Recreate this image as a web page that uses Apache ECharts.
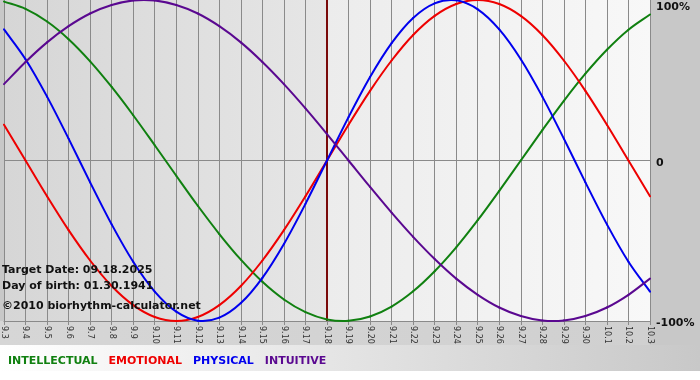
<!DOCTYPE html>
<html>
<head>
<meta charset="utf-8">
<script src="https://cdn.jsdelivr.net/npm/echarts@6/dist/echarts.min.js"></script>
<style>
html,body{margin:0;padding:0;background:#fff;}
#chart{width:700px;height:380px;}
</style>
</head>
<body>
<div id="chart"></div>
<script>
const categories = ['9.3','9.4','9.5','9.6','9.7','9.8','9.9','9.10','9.11','9.12','9.13','9.14','9.15','9.16','9.17','9.18','9.19','9.20','9.21','9.22','9.23','9.24','9.25','9.26','9.27','9.28','9.29','9.30','10.1','10.2','10.3'];
const intellectual = [99.0, 94.5, 86.6, 75.6, 61.8, 45.8, 28.2, 9.5, -9.5, -28.2, -45.8, -61.8, -75.6, -86.6, -94.5, -99.0, -99.9, -97.2, -91.0, -81.5, -69.0, -54.1, -37.2, -18.9, 0, 18.9, 37.2, 54.1, 69.0, 81.5, 91.0];
const emotional = [22.3, 0, -22.3, -43.4, -62.3, -78.2, -90.1, -97.5, -100, -97.5, -90.1, -78.2, -62.3, -43.4, -22.3, 0, 22.3, 43.4, 62.3, 78.2, 90.1, 97.5, 100, 97.5, 90.1, 78.2, 62.3, 43.4, 22.3, 0, -22.3];
const physical = [81.7, 63.1, 39.8, 13.6, -13.6, -39.8, -63.1, -81.7, -94.2, -99.8, -97.9, -88.8, -73.1, -52.0, -27.0, 0, 27.0, 52.0, 73.1, 88.8, 97.9, 99.8, 94.2, 81.7, 63.1, 39.8, 13.6, -13.6, -39.8, -63.1, -81.7];
const intuitive = [47.6, 61.4, 73.6, 83.7, 91.6, 96.9, 99.7, 99.7, 96.9, 91.6, 83.7, 73.6, 61.4, 47.6, 32.5, 16.5, 0, -16.5, -32.5, -47.6, -61.4, -73.6, -83.7, -91.6, -96.9, -99.7, -99.7, -96.9, -91.6, -83.7, -73.6];
const seriesNames = ['INTELLECTUAL','EMOTIONAL','PHYSICAL','INTUITIVE'];
const seriesColors = ['#108010','#ee0000','#0000ee','#5a0890'];
const targetDay = '9.18';
const startDay = '9.3';
const endDay = '10.3';
const infoLines = ['Target Date: 09.18.2025','Day of birth: 01.30.1941','©2010 biorhythm-calculator.net'];

const chart = echarts.init(document.getElementById('chart'), null, {renderer:'canvas'});
const FONT = 'DejaVu Sans';
const values = [intellectual, emotional, physical, intuitive];

// Smooth curve segment (Catmull-Rom as cubic Bezier) between consecutive data points, positioned by the axes.
function makeRenderer(vals, color){
  return function(params, api){
    const j = params.dataIndex;
    const n = vals.length;
    if (j >= n - 1) return null;
    const p1 = api.coord([j, vals[j]]);
    const p2 = api.coord([j + 1, vals[j + 1]]);
    const p0 = j > 0 ? api.coord([j - 1, vals[j - 1]]) : [2*p1[0]-p2[0], 2*p1[1]-p2[1]];
    const p3 = j + 2 < n ? api.coord([j + 2, vals[j + 2]]) : [2*p2[0]-p1[0], 2*p2[1]-p1[1]];
    return {
      type:'bezierCurve',
      shape:{
        x1:p1[0], y1:p1[1], x2:p2[0], y2:p2[1],
        cpx1:p1[0] + (p2[0]-p0[0])/6, cpy1:p1[1] + (p2[1]-p0[1])/6,
        cpx2:p2[0] - (p3[0]-p1[0])/6, cpy2:p2[1] - (p3[1]-p1[1])/6
      },
      style:{stroke:color, lineWidth:2, fill:null, lineCap:'round'},
      silent:true
    };
  };
}

const series = [{
  name:'__bg', type:'line', data:[], silent:true, animation:false,
  markArea:{
    silent:true, z:0.5,
    data:[
      [{xAxis:startDay, itemStyle:{color:new echarts.graphic.LinearGradient(0,0,1,0,[{offset:0,color:'#d6d6d6'},{offset:1,color:'#e6e6e6'}])}},{xAxis:targetDay}],
      [{xAxis:targetDay, itemStyle:{color:new echarts.graphic.LinearGradient(0,0,1,0,[{offset:0,color:'#ececec'},{offset:1,color:'#f8f8f8'}])}},{xAxis:endDay}]
    ]
  },
  markLine:{
    silent:true, z:2.5, symbol:['none','none'], label:{show:false},
    lineStyle:{color:'#7a0a0a', width:2, type:'solid'},
    data:[{xAxis:targetDay}], animation:false
  }
}];
seriesNames.forEach((n,i)=>series.push({
  name:n, type:'custom', data: values[i].map((v,j)=>[j, v]), encode:{x:0, y:1},
  renderItem: makeRenderer(values[i], seriesColors[i]),
  itemStyle:{color:seriesColors[i]}, z: 3 + i, animation:false, clip:false
}));

const option = {
  animation:false,
  backgroundColor:'#ffffff',
  graphic:[
    {type:'rect', z:-10, silent:true, shape:{x:0,y:0,width:700,height:345}, style:{fill:'#c8c8c8'}},
    {type:'rect', z:-10, silent:true, shape:{x:0,y:321,width:650,height:24}, style:{fill:new echarts.graphic.LinearGradient(0,0,1,0,[{offset:0,color:'#d6d6d6'},{offset:1,color:'#d0d0d0'}])}},
    {type:'rect', z:-10, silent:true, shape:{x:0,y:345,width:700,height:26}, style:{fill:new echarts.graphic.LinearGradient(0,0,1,0,[{offset:0,color:'#ffffff'},{offset:1,color:'#c8c8c8'}])}}
  ],
  title: infoLines.map((t,i)=>({
    text:t, left:2, top:[265,281,301][i], padding:0, z:10,
    textStyle:{fontFamily:FONT, fontSize:11, fontWeight:'bold', color:'#111'}
  })),
  legend:{
    left:3, top:355, padding:0, itemGap:6, itemWidth:0, itemHeight:12, icon:'none',
    selectedMode:false,
    data: seriesNames.map((n,i)=>({name:n, textStyle:{color:seriesColors[i], fontFamily:FONT, fontSize:11, fontWeight:'bold'}}))
  },
  grid:{left:1, right:50, top:0, bottom:59, containLabel:false},
  xAxis:{
    type:'category', data:categories, boundaryGap:false, z:1.5,
    axisLine:{show:true, onZero:false, lineStyle:{color:'#8a8a8a', width:1}},
    axisTick:{show:true, interval:0, length:4, lineStyle:{color:'#8a8a8a'}},
    axisLabel:{interval:0, rotate:-90, fontSize:8, fontFamily:FONT, color:'#333', margin:5},
    splitLine:{show:true, interval:0, lineStyle:{color:'#8a8a8a', width:1}}
  },
  yAxis:{
    type:'value', min:-100, max:100, interval:100, position:'right', z:1.5,
    axisLine:{show:false}, axisTick:{show:false},
    splitLine:{show:true, lineStyle:{color:['#8a8a8a','#8a8a8a','rgba(0,0,0,0)'], width:1}},
    axisLabel:{
      margin:6, fontFamily:FONT, fontSize:11, fontWeight:'bold', color:'#111',
      formatter: v => v===100 ? '{t|100%}' : (v===0 ? '{m|0}' : '{b|-100%}'),
      rich:{
        t:{lineHeight:26, verticalAlign:'bottom', fontFamily:FONT, fontSize:11, fontWeight:'bold', color:'#111'},
        m:{lineHeight:16, verticalAlign:'bottom', fontFamily:FONT, fontSize:11, fontWeight:'bold', color:'#111'},
        b:{lineHeight:16, verticalAlign:'bottom', fontFamily:FONT, fontSize:11, fontWeight:'bold', color:'#111'}
      }
    }
  },
  series: series
};
chart.setOption(option);
</script>
</body>
</html>
